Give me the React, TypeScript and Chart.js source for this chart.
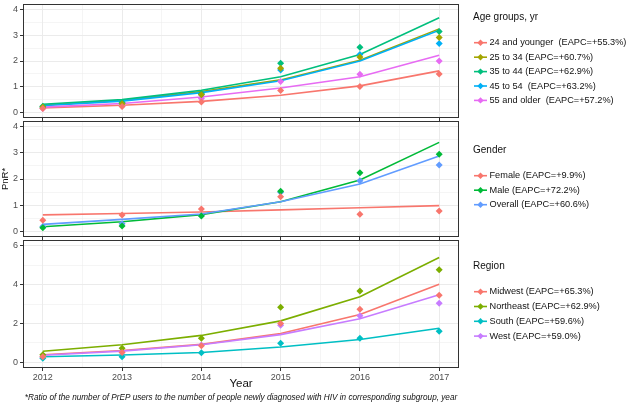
import React, { useEffect, useRef } from 'react';
import { Chart, registerables } from 'chart.js';

Chart.register(...registerables);

// ---------- data ----------
const years = [2012, 2013, 2014, 2015, 2016, 2017];

// Panel 1: age groups
const ageTitle = 'Age groups, yr';
const ageLabels = [
  '24 and younger  (EAPC=+55.3%)',
  '25 to 34 (EAPC=+60.7%)',
  '35 to 44 (EAPC=+62.9%)',
  '45 to 54  (EAPC=+63.2%)',
  '55 and older  (EAPC=+57.2%)',
];
const ageColors = ['#F8766D', '#A3A500', '#00BF7D', '#00B0F6', '#E76BF3'];
const age24Obs = [0.17, 0.24, 0.42, 0.86, 1.02, 1.5];
const age24Fit = [0.19, 0.29, 0.44, 0.68, 1.04, 1.62];
const age25Obs = [0.22, 0.35, 0.7, 1.72, 2.15, 2.91];
const age25Fit = [0.3, 0.48, 0.82, 1.27, 2.03, 3.24];
const age35Obs = [0.25, 0.4, 0.74, 1.91, 2.53, 3.14];
const age35Fit = [0.33, 0.51, 0.87, 1.39, 2.25, 3.67];
const age45Obs = [0.22, 0.37, 0.71, 1.65, 2.25, 2.68];
const age45Fit = [0.27, 0.45, 0.78, 1.24, 2.0, 3.19];
const age55Obs = [0.17, 0.26, 0.55, 1.21, 1.49, 2.0];
const age55Fit = [0.22, 0.36, 0.61, 0.96, 1.39, 2.22];

// Panel 2: gender
const genderTitle = 'Gender';
const genderLabels = ['Female (EAPC=+9.9%)', 'Male (EAPC=+72.2%)', 'Overall (EAPC=+60.6%)'];
const genderColors = ['#F8766D', '#00BA38', '#619CFF'];
const femaleObs = [0.44, 0.63, 0.86, 1.33, 0.66, 0.79];
const femaleFit = [0.64, 0.69, 0.75, 0.83, 0.91, 0.99];
const maleObs = [0.15, 0.22, 0.6, 1.54, 2.24, 2.94];
const maleFit = [0.19, 0.38, 0.65, 1.14, 1.96, 3.39];
const overallObs = [0.2, 0.3, 0.62, 1.5, 1.93, 2.53];
const overallFit = [0.28, 0.47, 0.67, 1.14, 1.81, 2.87];

// Panel 3: region
const regionTitle = 'Region';
const regionLabels = [
  'Midwest (EAPC=+65.3%)',
  'Northeast (EAPC=+62.9%)',
  'South (EAPC=+59.6%)',
  'West (EAPC=+59.0%)',
];
const regionColors = ['#F8766D', '#7CAE00', '#00BFC4', '#C77CFF'];
const midwestObs = [0.28, 0.5, 0.85, 2.0, 2.73, 3.45];
const midwestFit = [0.38, 0.6, 0.92, 1.48, 2.46, 4.02];
const northeastObs = [0.38, 0.72, 1.23, 2.83, 3.67, 4.77];
const northeastFit = [0.56, 0.9, 1.38, 2.13, 3.37, 5.4];
const southObs = [0.2, 0.28, 0.48, 0.97, 1.23, 1.59];
const southFit = [0.28, 0.37, 0.5, 0.78, 1.17, 1.75];
const westObs = [0.27, 0.52, 0.88, 1.9, 2.4, 3.04];
const westFit = [0.36, 0.57, 0.9, 1.42, 2.24, 3.48];

// ticks
const yTicks4 = [0, 0.5, 1, 1.5, 2, 2.5, 3, 3.5, 4];
const yTicks6 = [0, 1, 2, 3, 4, 5, 6];
const xTicks = [2012, 2012.5, 2013, 2013.5, 2014, 2014.5, 2015, 2015.5, 2016, 2016.5, 2017];

const yAxisTitle = 'PnR*';
const xAxisTitle = 'Year';
const footnote =
  '*Ratio of the number of PrEP users to the number of people newly diagnosed with HIV in corresponding subgroup, year';

// ---------- layout ----------
const W = 628;
const H = 403;
const PLOT_LEFT = 23;
const PLOT_RIGHT = 459;
const FAMILY = '"Liberation Sans", Arial, sans-serif';

interface SeriesSpec {
  label: string;
  color: string;
  obs: number[];
  fit: number[];
}

interface PanelSpec {
  series: SeriesSpec[];
  yMin: number;
  yMax: number;
  yTicks: number[];
  yMajor: (v: number) => boolean;
  top: number;
  bottom: number;
  xAxisH: number;
  showX: boolean;
  yTitle?: string;
  legendTitle: string;
  legendTitleY: number;
  legendYs: number[];
  footnote?: string;
}

const mk = (labels: string[], colors: string[], obs: number[][], fit: number[][]): SeriesSpec[] =>
  labels.map((label, i) => ({ label, color: colors[i], obs: obs[i], fit: fit[i] }));

const panels: PanelSpec[] = [
  {
    series: mk(
      ageLabels,
      ageColors,
      [age24Obs, age25Obs, age35Obs, age45Obs, age55Obs],
      [age24Fit, age25Fit, age35Fit, age45Fit, age55Fit]
    ),
    yMin: -0.2,
    yMax: 4.2,
    yTicks: yTicks4,
    yMajor: (v) => Number.isInteger(v),
    top: 2,
    bottom: 118,
    xAxisH: 3,
    showX: false,
    legendTitle: ageTitle,
    legendTitleY: 17.5,
    legendYs: [42.7, 57.2, 71.6, 86, 100.4],
  },
  {
    series: mk(genderLabels, genderColors, [femaleObs, maleObs, overallObs], [femaleFit, maleFit, overallFit]),
    yMin: -0.2,
    yMax: 4.2,
    yTicks: yTicks4,
    yMajor: (v) => Number.isInteger(v),
    top: 121,
    bottom: 237,
    xAxisH: 3,
    showX: false,
    yTitle: yAxisTitle,
    legendTitle: genderTitle,
    legendTitleY: 150.7,
    legendYs: [175.7, 190.2, 204.7],
  },
  {
    series: mk(
      regionLabels,
      regionColors,
      [midwestObs, northeastObs, southObs, westObs],
      [midwestFit, northeastFit, southFit, westFit]
    ),
    yMin: -0.3,
    yMax: 6.3,
    yTicks: yTicks6,
    yMajor: (v) => v % 2 === 0,
    top: 240,
    bottom: 368,
    xAxisH: 23,
    showX: true,
    legendTitle: regionTitle,
    legendTitleY: 266.7,
    legendYs: [291.7, 306.5, 321.3, 336.1],
    footnote,
  },
];

function drawDiamond(ctx: CanvasRenderingContext2D, x: number, y: number, r: number) {
  ctx.beginPath();
  ctx.moveTo(x - r, y);
  ctx.lineTo(x, y - r);
  ctx.lineTo(x + r, y);
  ctx.lineTo(x, y + r);
  ctx.closePath();
  ctx.fill();
}

function buildConfig(spec: PanelSpec): any {
  const toPts = (vals: number[]) => years.map((x, i) => ({ x, y: vals[i] }));
  const n = spec.series.length;
  const pointSets = spec.series.map((s, i) => ({
    label: s.label,
    data: toPts(s.obs),
    showLine: false,
    pointStyle: 'rectRot',
    pointRadius: 3.5,
    pointBorderWidth: 0,
    pointBackgroundColor: s.color,
    pointBorderColor: s.color,
    borderColor: s.color,
    backgroundColor: s.color,
    order: i,
  }));
  const lineSets = spec.series.map((s, i) => ({
    label: s.label + ' fit',
    data: toPts(s.fit),
    borderColor: s.color,
    backgroundColor: s.color,
    borderWidth: 1.6,
    pointRadius: 0,
    tension: 0,
    fill: false,
    order: 100 + n - i,
  }));

  const decor = {
    id: 'panelDecor',
    afterDatasetsDraw(chart: any) {
      const { ctx, chartArea: a } = chart;
      ctx.save();
      ctx.strokeStyle = '#333333';
      ctx.lineWidth = 1;
      ctx.strokeRect(a.left + 0.5, a.top + 0.5, a.right - a.left - 1, a.bottom - a.top - 1);
      ctx.restore();
    },
    afterDraw(chart: any) {
      const ctx: CanvasRenderingContext2D = chart.ctx;
      ctx.save();
      ctx.textBaseline = 'middle';
      ctx.textAlign = 'left';
      ctx.fillStyle = '#111111';
      ctx.font = `10px ${FAMILY}`;
      ctx.fillText(spec.legendTitle, 473, spec.legendTitleY);
      spec.series.forEach((s, i) => {
        const y = spec.legendYs[i];
        ctx.strokeStyle = s.color;
        ctx.lineWidth = 1.6;
        ctx.beginPath();
        ctx.moveTo(474, y);
        ctx.lineTo(487, y);
        ctx.stroke();
        ctx.fillStyle = s.color;
        drawDiamond(ctx, 480.5, y, 3.2);
        ctx.fillStyle = '#111111';
        ctx.font = `9.2px ${FAMILY}`;
        ctx.fillText(s.label, 489.5, y);
      });
      if (spec.footnote) {
        ctx.font = `italic 8.2px ${FAMILY}`;
        ctx.textAlign = 'center';
        ctx.fillStyle = '#111111';
        ctx.fillText(spec.footnote, (PLOT_LEFT + PLOT_RIGHT) / 2, 397.5);
      }
      ctx.restore();
    },
  };

  const isIntX = (c: any) => c.tick && Number.isInteger(c.tick.value);
  const isMajY = (c: any) => c.tick && spec.yMajor(c.tick.value);

  return {
    type: 'line',
    data: { datasets: [...pointSets, ...lineSets] },
    plugins: [decor],
    options: {
      responsive: false,
      animation: false,
      events: [],
      layout: {
        padding: {
          left: 0,
          right: W - PLOT_RIGHT,
          top: spec.top,
          bottom: H - spec.bottom - spec.xAxisH,
        },
      },
      plugins: {
        legend: { display: false },
        tooltip: { enabled: false },
        title: { display: false },
      },
      scales: {
        x: {
          type: 'linear',
          min: 2011.75,
          max: 2017.25,
          afterBuildTicks: (s: any) => {
            s.ticks = xTicks.map((value) => ({ value }));
          },
          afterFit: (s: any) => {
            s.height = spec.xAxisH;
            s.paddingLeft = 0;
            s.paddingRight = 0;
          },
          border: { display: false },
          grid: {
            color: '#EBEBEB',
            lineWidth: (c: any) => (isIntX(c) ? 1 : 0.5),
            tickLength: 3,
            tickWidth: 1,
            tickColor: (c: any) => (isIntX(c) ? '#333333' : 'rgba(0,0,0,0)'),
          },
          ticks: {
            autoSkip: false,
            maxRotation: 0,
            minRotation: 0,
            padding: 1,
            color: '#4D4D4D',
            font: { family: FAMILY, size: 9 },
            callback: (v: any) => (spec.showX && Number.isInteger(v) ? String(v) : ''),
          },
          title: {
            display: spec.showX,
            text: xAxisTitle,
            color: '#111111',
            font: { family: FAMILY, size: 11.5 },
            padding: 0,
          },
        },
        y: {
          type: 'linear',
          min: spec.yMin,
          max: spec.yMax,
          afterBuildTicks: (s: any) => {
            s.ticks = spec.yTicks.map((value) => ({ value }));
          },
          afterFit: (s: any) => {
            s.width = PLOT_LEFT;
            s.paddingTop = 0;
            s.paddingBottom = 0;
          },
          border: { display: false },
          grid: {
            color: '#EBEBEB',
            lineWidth: (c: any) => (isMajY(c) ? 1 : 0.5),
            tickLength: 3,
            tickWidth: 1,
            tickColor: (c: any) => (isMajY(c) ? '#333333' : 'rgba(0,0,0,0)'),
          },
          ticks: {
            autoSkip: false,
            padding: 2,
            color: '#4D4D4D',
            font: { family: FAMILY, size: 9 },
            callback: (v: any) => (spec.yMajor(v) ? String(v) : ''),
          },
          title: {
            display: !!spec.yTitle,
            text: spec.yTitle || '',
            color: '#111111',
            font: { family: FAMILY, size: 9.5 },
            padding: 0,
          },
        },
      },
    },
  };
}

function Panel({ spec }: { spec: PanelSpec }) {
  const ref = useRef<HTMLCanvasElement>(null);
  useEffect(() => {
    if (!ref.current) return;
    const chart = new Chart(ref.current, buildConfig(spec));
    return () => chart.destroy();
  }, [spec]);
  return (
    <canvas
      ref={ref}
      width={W}
      height={H}
      style={{ position: 'absolute', left: 0, top: 0, width: W, height: H }}
    />
  );
}

export default function App() {
  return (
    <div style={{ position: 'absolute', left: 0, top: 0, width: W, height: H, background: '#ffffff' }}>
      {panels.map((p, i) => (
        <Panel key={i} spec={p} />
      ))}
    </div>
  );
}
